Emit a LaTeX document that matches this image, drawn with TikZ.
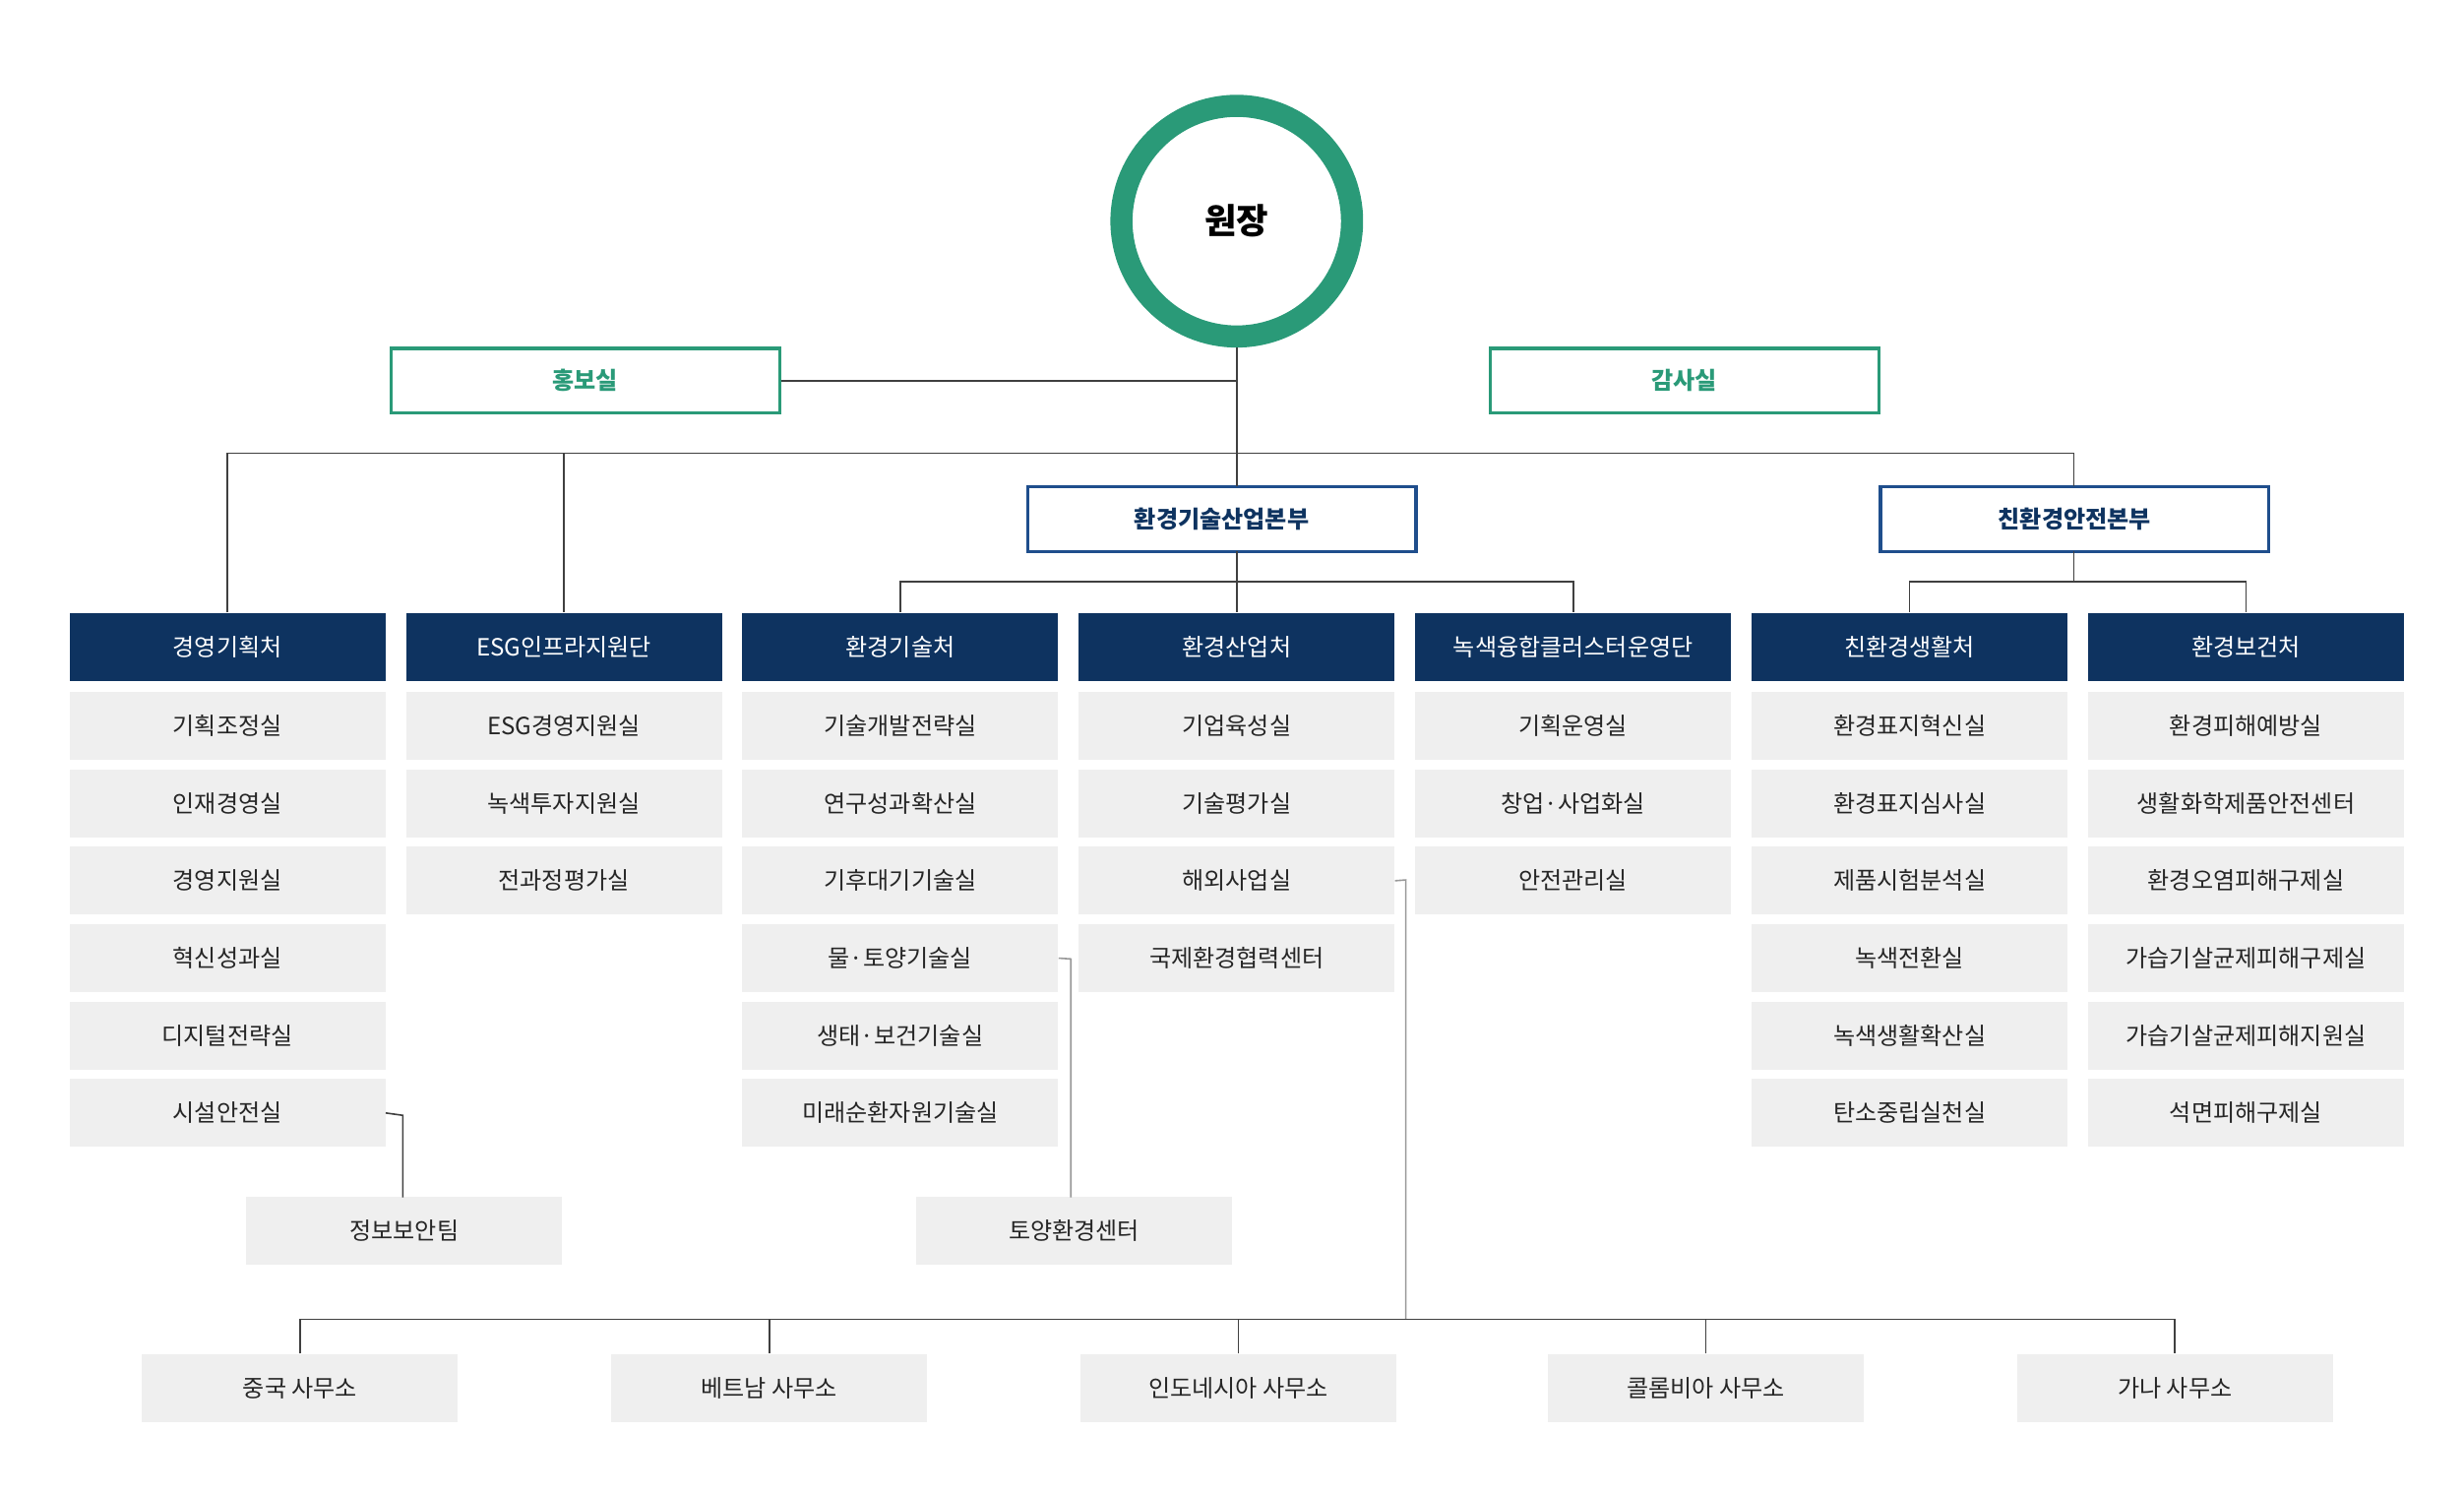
\documentclass[tikz,border=0pt]{standalone}
\usepackage{fontspec}
\setmainfont{Noto Sans CJK KR}
\begin{document}
\begin{tikzpicture}[x=1pt,y=-1pt,
 hd/.style={fill=navy,text=white,minimum width=200pt,minimum height=43pt,inner sep=0pt,font=\fontsize{15}{18}\selectfont},
 it/.style={fill=lgray,text=black!85,minimum width=200pt,minimum height=43pt,inner sep=0pt,font=\fontsize{15}{18}\selectfont},
 gb/.style={draw=gr,line width=2pt,text=gr,minimum width=246pt,minimum height=41pt,inner sep=0pt,font=\bfseries\fontsize{15}{18}\selectfont},
 bb/.style={draw=bl,line width=2pt,text=navy,minimum width=246pt,minimum height=41pt,inner sep=0pt,font=\bfseries\fontsize{15}{18}\selectfont},
 ln/.style={draw=black!75,line width=1pt},
 sl/.style={draw=black!40,line width=1pt}]
\definecolor{navy}{HTML}{0E3360}\definecolor{lgray}{HTML}{EFEFEF}
\definecolor{gr}{HTML}{2A9A78}\definecolor{bl}{HTML}{1F4E8C}
\useasboundingbox (0,0) rectangle (1560,946);
\fill[white] (0,0) rectangle (1560,946);
\node[circle,draw=gr,line width=14pt,minimum size=146pt,font=\bfseries\fontsize{22}{26}\selectfont] (ceo) at (783,140) {원장};
\node[gb] (pr) at (370.5,241) {홍보실};
\node[gb] (au) at (1066.5,241) {감사실};
\node[bb] (tb) at (773.5,328.5) {환경기술산업본부};
\node[bb] (sb) at (1313.5,328.5) {친환경안전본부};
\coordinate (j) at (783,287);
\draw[ln] (ceo.south) -- (j);
\draw[ln] (pr.east) -- (783,241);
\foreach \n/\x/\t in {h1/144/경영기획처,h2/357/ESG인프라지원단,h3/570/환경기술처,h4/783/환경산업처,h5/996/녹색융합클러스터운영단,h6/1209/친환경생활처,h7/1422/환경보건처}
  \node[hd] (\n) at (\x,409.5) {\t};
\draw[ln] (h1.north) |- (j) -| (h2.north);
\draw[ln] (j) -| (1313,308);
\draw[ln] (j) -- (783,308);
\draw[ln] (783,349) -- (783,368);
\draw[ln] (h3.north) |- (783,368) -| (h5.north);
\draw[ln] (783,368) -- (h4.north);
\draw[ln] (h6.north) |- (1313,368) -| (h7.north);
\draw[ln] (1313,349) -- (1313,368);
\foreach \x/\c/\list in {144/a/{기획조정실,인재경영실,경영지원실,혁신성과실,디지털전략실,시설안전실},
  357/b/{ESG경영지원실,녹색투자지원실,전과정평가실},
  570/c/{기술개발전략실,연구성과확산실,기후대기기술실,물·토양기술실,생태·보건기술실,미래순환자원기술실},
  783/d/{기업육성실,기술평가실,해외사업실,국제환경협력센터},
  996/e/{기획운영실,창업·사업화실,안전관리실},
  1209/f/{환경표지혁신실,환경표지심사실,제품시험분석실,녹색전환실,녹색생활확산실,탄소중립실천실},
  1422/g/{환경피해예방실,생활화학제품안전센터,환경오염피해구제실,가습기살균제피해구제실,가습기살균제피해지원실,석면피해구제실}}
  \foreach \t [count=\i] in \list
    \node[it] (\c\i) at (\x,{459.5+49*(\i-1)}) {\t};
\node[it] (sec) at (256,779) {정보보안팀};
\node[it] (soil) at (680,779) {토양환경센터};
\draw[ln] (a6.east) -- (255,706) -- (255,758);
\draw[sl] (c4.east) -- (678,607) -- (678,758);
\foreach \n/\x/\t in {o1/190/중국 사무소,o2/487/베트남 사무소,o3/784/인도네시아 사무소,o4/1080/콜롬비아 사무소,o5/1377/가나 사무소}
  \node[it] (\n) at (\x,878.5) {\t};
\coordinate (oj) at (890,835);
\draw[sl] (d3.east) -- (890,557) -- (oj);
\draw[ln] (o1.north) |- (oj) -| (o5.north);
\foreach \n in {o2,o3,o4} \draw[ln] (\n.north) -- (\n.north |- oj);
\end{tikzpicture}
\end{document}
